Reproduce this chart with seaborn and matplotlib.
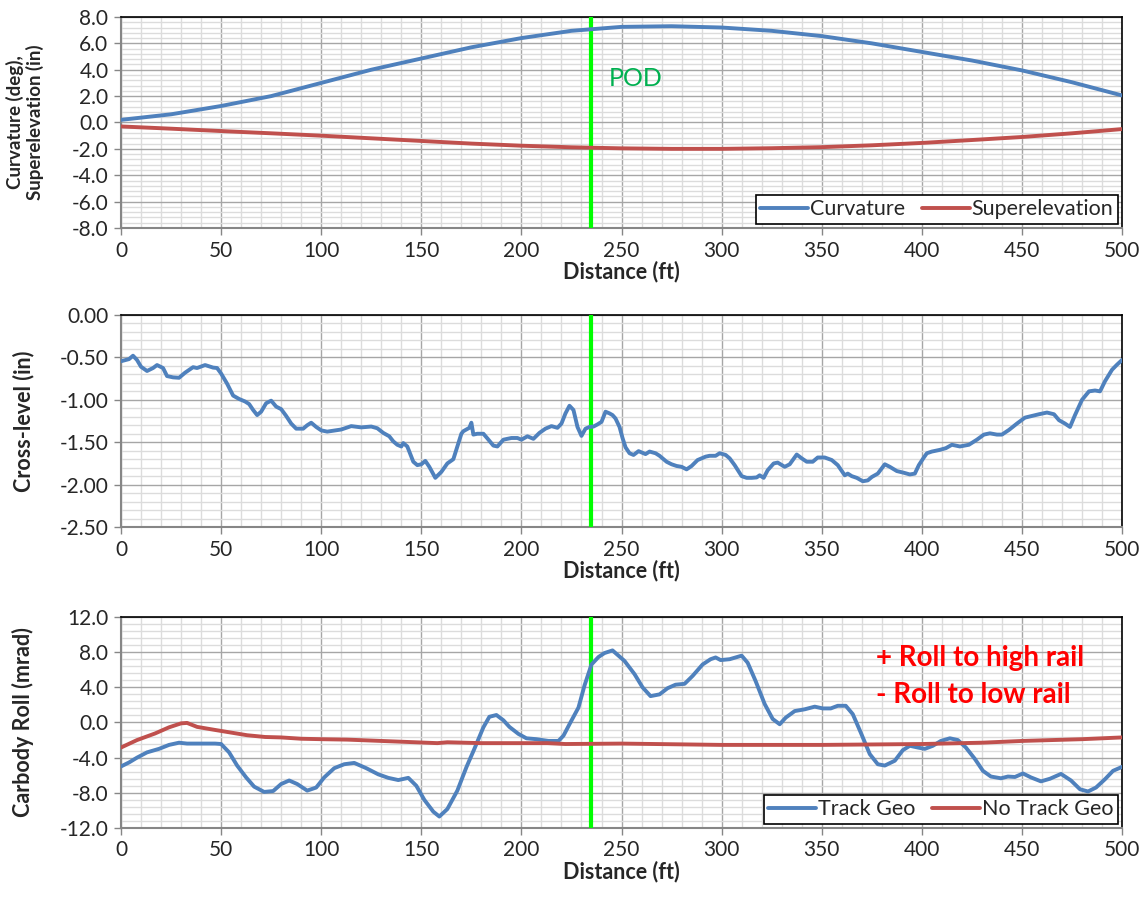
import numpy as np
import pandas as pd
import matplotlib
matplotlib.use("Agg")
import matplotlib.pyplot as plt
from matplotlib.ticker import MultipleLocator, FormatStrFormatter
import seaborn as sns

# ---------------- data ----------------
pod_distance = 235

geo_distance = [0, 25, 50, 75, 100, 125, 150, 175, 200, 225, 250, 275, 300,
                325, 350, 375, 400, 425, 450, 475, 500]
curvature = [0.2, 0.62, 1.25, 2.0, 3.0, 4.0, 4.85, 5.7, 6.4, 6.95, 7.25, 7.3,
             7.2, 6.95, 6.55, 6.0, 5.35, 4.7, 3.95, 3.05, 2.05]
superelevation = [-0.3, -0.47, -0.65, -0.82, -1.0, -1.2, -1.4, -1.6, -1.76,
                  -1.88, -1.96, -2.0, -2.0, -1.95, -1.87, -1.73, -1.55, -1.33,
                  -1.1, -0.82, -0.5]

xl_distance = [0, 2.5, 4, 6, 8, 10, 13, 16, 18, 21, 23, 26, 29, 32, 36, 38, 42,
               46, 48, 50, 53, 56, 59, 62, 64, 66, 68, 70, 72.5, 75, 77.5, 80,
               82.5, 85, 87.5, 91, 93, 95, 97.5, 100, 103, 107, 110, 115, 120,
               125, 128, 131, 134, 136, 138, 140, 141, 143, 146, 148, 150, 152,
               154, 157, 160, 163, 166, 168, 170, 171, 174, 175, 176, 178, 181,
               183, 186, 188, 191, 195, 198, 200, 203, 206, 209, 212, 215, 218,
               220, 222, 224, 226, 228, 230, 232, 234, 236, 238, 240, 242, 244,
               245.5, 247, 249, 250.5, 252, 254, 256, 258.5, 262, 264, 267, 269,
               272.5, 275, 277.5, 280, 282.5, 285, 288, 292, 294, 297, 299, 302,
               304, 306.5, 310, 312.5, 315, 317.5, 319, 321, 323, 326, 328,
               331.5, 334, 337.5, 340, 342.5, 345.5, 348, 351.5, 355, 358,
               361.5, 363, 365, 367.5, 370.5, 373, 375, 378, 381.5, 384, 387.5,
               391, 394, 396.5, 398.5, 401, 402.5, 405, 409, 412, 415, 419,
               423.5, 427.5, 431, 434, 437.5, 440, 443.5, 447.5, 451.5, 455,
               458.5, 462.5, 466, 468.5, 471.5, 474, 476.5, 480, 483.5, 486.5,
               489, 491.5, 495, 497.5, 500]
cross_level = [-0.545, -0.53, -0.52, -0.48, -0.53, -0.61, -0.66, -0.625, -0.59,
               -0.625, -0.72, -0.735, -0.74, -0.68, -0.615, -0.625, -0.59,
               -0.62, -0.625, -0.69, -0.81, -0.95, -0.99, -1.02, -1.05, -1.12,
               -1.18, -1.14, -1.04, -1.01, -1.08, -1.11, -1.19, -1.28, -1.34,
               -1.34, -1.30, -1.27, -1.32, -1.36, -1.375, -1.36, -1.35, -1.31,
               -1.325, -1.315, -1.335, -1.39, -1.43, -1.49, -1.53, -1.55, -1.51,
               -1.55, -1.73, -1.77, -1.76, -1.72, -1.79, -1.92, -1.85, -1.75,
               -1.70, -1.55, -1.40, -1.37, -1.33, -1.27, -1.41, -1.40, -1.40,
               -1.455, -1.54, -1.55, -1.47, -1.45, -1.45, -1.47, -1.43, -1.46,
               -1.39, -1.34, -1.31, -1.33, -1.28, -1.16, -1.07, -1.12, -1.32,
               -1.425, -1.34, -1.32, -1.315, -1.29, -1.26, -1.14, -1.16, -1.18,
               -1.22, -1.32, -1.45, -1.56, -1.63, -1.65, -1.605, -1.64, -1.61,
               -1.63, -1.66, -1.73, -1.76, -1.78, -1.79, -1.82, -1.78, -1.71,
               -1.67, -1.66, -1.66, -1.63, -1.65, -1.69, -1.77, -1.90, -1.92,
               -1.92, -1.915, -1.89, -1.92, -1.83, -1.75, -1.74, -1.79, -1.76,
               -1.645, -1.69, -1.73, -1.73, -1.68, -1.68, -1.71, -1.77, -1.89,
               -1.87, -1.90, -1.92, -1.96, -1.95, -1.91, -1.87, -1.76, -1.79,
               -1.84, -1.86, -1.88, -1.87, -1.77, -1.68, -1.63, -1.61, -1.59,
               -1.57, -1.53, -1.55, -1.53, -1.47, -1.41, -1.395, -1.41, -1.41,
               -1.355, -1.28, -1.21, -1.19, -1.17, -1.15, -1.17, -1.24, -1.28,
               -1.32, -1.18, -1.00, -0.90, -0.89, -0.90, -0.78, -0.645, -0.585,
               -0.53]

roll_distance = [0, 4, 8, 13, 19, 24, 29, 33, 40, 47, 50, 54, 58, 62.5, 66.5,
                 71.5, 76, 80, 84, 88, 93, 97.5, 101.5, 106.5, 111.5, 116.5,
                 122.5, 128.5, 133.5, 138.5, 143.5, 147.5, 151.5, 156, 159, 163,
                 168, 172.5, 176.5, 181, 184, 187.5, 191, 194, 198.5, 202.5,
                 207.5, 213.5, 218.5, 221, 224, 228.5, 231.5, 235, 238.5, 241.5,
                 245.5, 251.5, 256.5, 260.5, 264.5, 269, 273, 277, 281.5, 285.5,
                 290.5, 294.5, 297, 299.5, 304, 307, 310, 313, 317, 321.5,
                 325.5, 329, 332, 336.5, 341.5, 346.5, 350.5, 354.5, 358, 362,
                 365.5, 369.5, 374, 378, 381.5, 386.5, 390.5, 394, 398, 401.5,
                 405.5, 409.5, 414, 418, 422, 426.5, 430.5, 434.5, 439.5, 443,
                 446.5, 450.5, 454.5, 459.5, 464, 469.5, 474.5, 479, 483, 487,
                 491.5, 495.5, 500]
roll_track_geo = [-5.0, -4.55, -4.0, -3.4, -3.0, -2.55, -2.3, -2.4, -2.4, -2.4,
                  -2.45, -3.4, -4.9, -6.25, -7.3, -7.9, -7.8, -7.0, -6.6, -7.0,
                  -7.75, -7.4, -6.25, -5.2, -4.75, -4.6, -5.2, -5.9, -6.3,
                  -6.55, -6.3, -7.2, -8.8, -10.15, -10.7, -9.85, -7.75, -5.1,
                  -3.0, -0.55, 0.65, 0.85, 0.25, -0.5, -1.3, -1.8, -1.9, -2.1,
                  -2.1, -1.5, -0.2, 1.7, 4.2, 6.6, 7.45, 7.9, 8.2, 7.0, 5.5, 4.0,
                  3.0, 3.2, 3.9, 4.3, 4.4, 5.3, 6.6, 7.2, 7.4, 7.1, 7.2, 7.4, 7.6,
                  6.8, 4.7, 2.1, 0.4, -0.2, 0.55, 1.3, 1.5, 1.8, 1.6, 1.6, 1.9,
                  1.9, 0.95, -1.15, -3.6, -4.75, -4.9, -4.35, -3.15, -2.65, -2.85,
                  -3.0, -2.65, -2.1, -1.8, -2.0, -2.85, -4.15, -5.5, -6.15,
                  -6.35, -6.15, -6.2, -5.8, -6.25, -6.7, -6.4, -5.85, -6.6, -7.6,
                  -7.85, -7.4, -6.45, -5.5, -5.05]

ref_distance = [0, 8, 17, 24, 30, 33, 38, 47, 55, 63, 72, 80, 90, 100, 113,
                130, 147, 158, 163, 180, 213, 222, 250, 300, 350, 400, 430, 450,
                480, 500]
roll_no_track_geo = [-2.85, -2.0, -1.25, -0.55, -0.1, -0.05, -0.5, -0.85, -1.15,
                     -1.45, -1.65, -1.7, -1.85, -1.9, -1.95, -2.1, -2.25, -2.35,
                     -2.25, -2.35, -2.35, -2.45, -2.4, -2.55, -2.55, -2.45,
                     -2.3, -2.1, -1.9, -1.7]

# ---------------- styling ----------------
sns.set_style("white")
plt.rcParams["font.family"] = ["Lato", "DejaVu Sans"]

BLUE = "#4F81BD"
RED = "#C0504D"
POD_GREEN = "#00FF00"
TEXT_GREEN = "#00B050"
MAJOR_GRID = "#A6A6A6"
MINOR_GRID = "#DCDCDC"

fig = plt.figure(figsize=(11.48, 8.98), dpi=100)
left, width = 0.1054, 0.872
ax1 = fig.add_axes([left, 0.7461, width, 0.2350])
ax2 = fig.add_axes([left, 0.4131, width, 0.2361])
ax3 = fig.add_axes([left, 0.0780, width, 0.2349])


def style_axes(ax, ylim, ymajor, yminor, yfmt, ylabel, ylabel_size=15.5):
    ax.set_xlim(0, 500)
    ax.set_ylim(*ylim)
    ax.xaxis.set_major_locator(MultipleLocator(50))
    ax.xaxis.set_minor_locator(MultipleLocator(10))
    ax.yaxis.set_major_locator(MultipleLocator(ymajor))
    ax.yaxis.set_minor_locator(MultipleLocator(yminor))
    ax.yaxis.set_major_formatter(FormatStrFormatter(yfmt))
    ax.grid(which="minor", color=MINOR_GRID, linewidth=1.0)
    ax.grid(which="major", color=MAJOR_GRID, linewidth=1.0)
    ax.set_axisbelow(True)
    ax.tick_params(which="major", direction="out", length=5, width=1,
                   color="#868686", labelsize=15, pad=4, bottom=True, left=True)
    ax.tick_params(which="minor", length=0)
    for side in ("left", "bottom"):
        ax.spines[side].set_color("#868686")
        ax.spines[side].set_linewidth(1.5)
    for side in ("top", "right"):
        ax.spines[side].set_color("black")
        ax.spines[side].set_linewidth(1.2)
    ax.set_xlabel("Distance (ft)", fontsize=15.5, fontweight="bold", labelpad=0)
    ax.set_ylabel(ylabel, fontsize=ylabel_size, fontweight="bold",
                  linespacing=1.1)
    ax.axvline(pod_distance, color=POD_GREEN, linewidth=3, zorder=3)


def add_legend(ax):
    leg = ax.legend(loc="lower right", ncol=2, frameon=True, fancybox=False,
                    edgecolor="black", fontsize=15.5, handlelength=2.2,
                    handletextpad=0.1, columnspacing=0.8, borderpad=0.2,
                    borderaxespad=0.2)
    leg.get_frame().set_linewidth(1.2)
    leg.get_frame().set_alpha(1)


# Panel 1: curvature and superelevation
geo_df = pd.DataFrame({"distance": geo_distance, "curvature": curvature,
                       "superelevation": superelevation})
sns.lineplot(data=geo_df, x="distance", y="curvature", ax=ax1, color=BLUE,
             linewidth=2.8, label="Curvature", zorder=4)
sns.lineplot(data=geo_df, x="distance", y="superelevation", ax=ax1, color=RED,
             linewidth=2.8, label="Superelevation", zorder=4)
style_axes(ax1, (-8, 8), 2, 0.4, "%.1f", "Curvature (deg),\nSuperelevation (in)",
           ylabel_size=13.5)
ax1.text(243.5, 3.3, "POD", color=TEXT_GREEN, fontsize=18, va="center",
         ha="left")
add_legend(ax1)

# Panel 2: cross-level
xl_df = pd.DataFrame({"distance": xl_distance, "cross_level": cross_level})
sns.lineplot(data=xl_df, x="distance", y="cross_level", ax=ax2, color=BLUE,
             linewidth=2.8, zorder=4)
style_axes(ax2, (-2.5, 0), 0.5, 0.1, "%.2f", "Cross-level (in)")

# Panel 3: carbody roll
roll_df = pd.DataFrame({"distance": roll_distance, "roll": roll_track_geo})
ref_df = pd.DataFrame({"distance": ref_distance, "roll": roll_no_track_geo})
sns.lineplot(data=roll_df, x="distance", y="roll", ax=ax3, color=BLUE,
             linewidth=2.8, label="Track Geo", zorder=4)
sns.lineplot(data=ref_df, x="distance", y="roll", ax=ax3, color=RED,
             linewidth=2.8, label="No Track Geo", zorder=4)
style_axes(ax3, (-12, 12), 4, 0.8, "%.1f", "Carbody Roll (mrad)")
ax3.text(377, 7.3, "+ Roll to high rail", color="#FF0000", fontsize=20,
         fontweight="bold", va="center", ha="left")
ax3.text(377, 3.1, "- Roll to low rail", color="#FF0000", fontsize=20,
         fontweight="bold", va="center", ha="left")
add_legend(ax3)

ax1.yaxis.set_label_coords(-0.077, 0.5)
ax2.yaxis.set_label_coords(-0.087, 0.5)
ax3.yaxis.set_label_coords(-0.087, 0.5)

fig.savefig("out.png", dpi=100)
